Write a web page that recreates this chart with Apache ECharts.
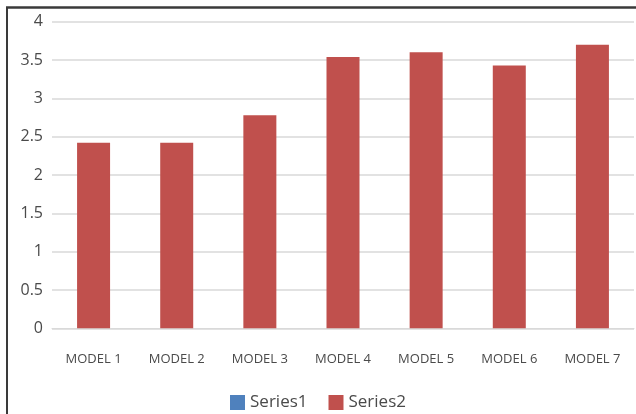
<!DOCTYPE html>
<html>
<head>
<meta charset="utf-8">
<style>
  html, body { margin: 0; padding: 0; background: #ffffff; }
  #chart { width: 636px; height: 414px; }
</style>
<script src="https://cdn.jsdelivr.net/npm/echarts@6/dist/echarts.min.js"></script>
</head>
<body>
<div id="chart"></div>
<script>
// Model scores per category
const categories = ['MODEL 1', 'MODEL 2', 'MODEL 3', 'MODEL 4', 'MODEL 5', 'MODEL 6', 'MODEL 7'];
const series1Values = [0, 0, 0, 0, 0, 0, 0];
const series2Values = [2.42, 2.42, 2.78, 3.54, 3.60, 3.43, 3.70];
const yTicks = { min: 0, max: 4, step: 0.5 };

const textColor = '#4a4a4a';
const fontFamily = '"Open Sans", "Liberation Sans", sans-serif';

const chart = echarts.init(document.getElementById('chart'), null, { renderer: 'canvas' });

chart.setOption({
  animation: false,
  backgroundColor: '#ffffff',
  graphic: [
    // Frame lines along the left and top of the chart area
    { type: 'line', shape: { x1: 7, y1: 7, x2: 7, y2: 414 }, style: { stroke: '#3a3a3a', lineWidth: 2 } },
    { type: 'line', shape: { x1: 6, y1: 7.5, x2: 636, y2: 7.5 }, style: { stroke: '#3a3a3a', lineWidth: 2.5 } }
  ],
  grid: { left: 52, right: 2, top: 21.7, bottom: 85.7, containLabel: false },
  legend: {
    data: ['Series1', 'Series2'],
    left: 'center',
    top: 389,
    itemWidth: 15,
    itemHeight: 15,
    itemGap: 21,
    icon: 'rect',
    textStyle: { color: textColor, fontSize: 17, fontFamily: fontFamily }
  },
  xAxis: {
    type: 'category',
    data: categories,
    axisLine: { show: true, lineStyle: { color: '#d9d9d9', width: 1 } },
    axisTick: { show: false },
    axisLabel: { color: textColor, fontSize: 13, fontFamily: fontFamily, margin: 24 }
  },
  yAxis: {
    type: 'value',
    min: yTicks.min,
    max: yTicks.max,
    interval: yTicks.step,
    axisLine: { show: false },
    axisTick: { show: false },
    splitLine: { lineStyle: { color: '#d9d9d9', width: 1.5 } },
    axisLabel: { color: textColor, fontSize: 16, fontFamily: fontFamily, margin: 9 }
  },
  series: [
    {
      name: 'Series1',
      type: 'bar',
      stack: 'models',
      data: series1Values,
      barWidth: 33,
      itemStyle: { color: '#4f81bd' }
    },
    {
      name: 'Series2',
      type: 'bar',
      stack: 'models',
      data: series2Values,
      barWidth: 33,
      itemStyle: { color: '#c0504d' }
    }
  ]
});
</script>
</body>
</html>
